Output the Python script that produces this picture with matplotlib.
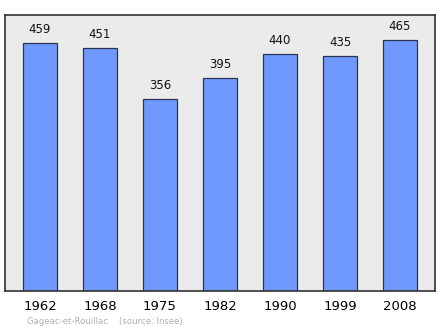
import matplotlib
matplotlib.use("Agg")
import matplotlib.pyplot as plt

years = ["1962", "1968", "1975", "1982", "1990", "1999", "2008"]
population = [459, 451, 356, 395, 440, 435, 465]

fig = plt.figure(figsize=(4.4, 3.29), dpi=100)
ax = fig.add_axes([5 / 440, 38.5 / 329, 430 / 440, 275.5 / 329])
ax.set_facecolor("#ebebeb")

x = list(range(len(years)))
ax.bar(x, population, width=0.58, color="#7099ff", edgecolor="#2b3550", linewidth=0.9)

for xi, v in zip(x, population):
    ax.annotate(str(v), (xi, v), xytext=(0, 5), textcoords="offset points",
                ha="center", va="bottom", fontsize=8.5, color="#111111")

ax.set_xlim(-0.583, 6.583)
ax.set_ylim(0, 465 * 1.1)
ax.set_yticks([])
ax.set_xticks(x)
ax.set_xticklabels(years, fontsize=9.5)
ax.tick_params(axis="x", length=0, pad=6.5)
for s in ax.spines.values():
    s.set_color("#333333")
    s.set_linewidth(1.2)

fig.text(27 / 440, 1 - 322 / 329, "Gageac-et-Rouillac    (source: Insee)",
         fontsize=6.1, color="#b0b0b0", va="center", ha="left")

fig.savefig("out.png", dpi=100)
